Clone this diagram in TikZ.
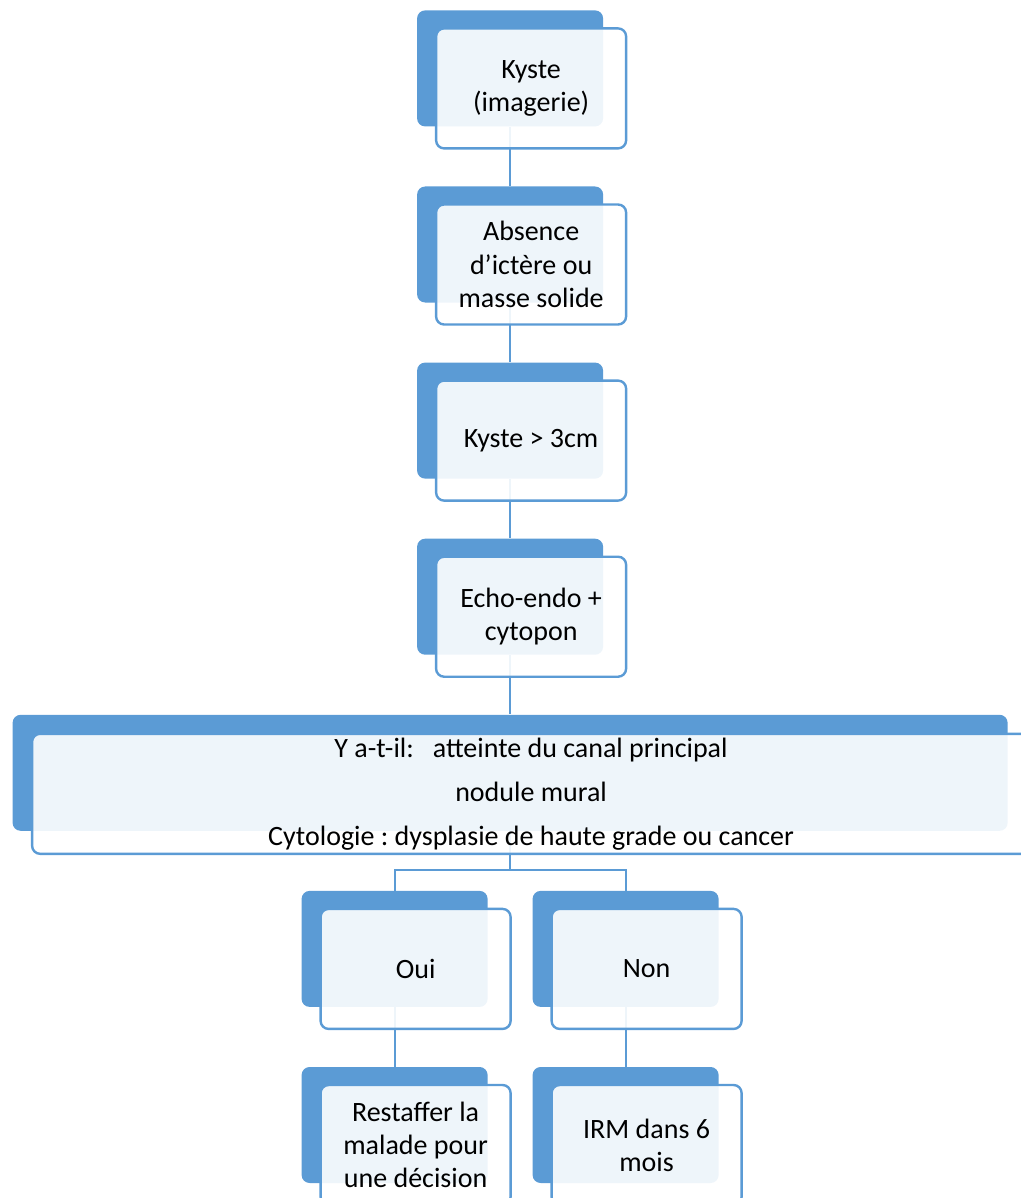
\documentclass[tikz,border=0pt]{standalone}
\usepackage{fontspec}
\setmainfont{Carlito}
\usepackage{tikz}
\usetikzlibrary{positioning,backgrounds}
\definecolor{smblue}{HTML}{5B9BD5}
\frenchspacing

\begin{document}
\begin{tikzpicture}[node distance=29.65pt,
  back/.style={fill=smblue,rounded corners=4pt,minimum width=93pt,minimum height=58pt,inner sep=0pt},
  front/.style={draw=smblue,line width=1.2pt,fill=white,fill opacity=0.9,text opacity=1,
    rounded corners=4pt,minimum width=95pt,minimum height=60pt,inner sep=0pt,align=center,
    font=\fontsize{14}{16.6}\selectfont},
  conn/.style={draw=smblue,line width=1.1pt}]
  \useasboundingbox (0,0) rectangle (510.5pt,-599pt);

  \node[back,anchor=north west] (k1) at (208.35pt,-5pt) {};
  \node[back]  (k2) [below=of k1] {};
  \node[back]  (k3) [below=of k2] {};
  \node[back]  (k4) [below=of k3] {};
  \node[back,minimum width=497.5pt] (w) [below=of k4] {};
  \node[back]  (oui) [below=of w,xshift=-57.75pt] {};
  \node[back]  (non) [below=of w,xshift=57.75pt] {};
  \node[back]  (res) [below=of oui] {};
  \node[back]  (irm) [below=of non] {};

  \begin{scope}[on background layer]
  \path[conn] (k1) edge (k2)
        (k2) edge (k3)
        (k3) edge (k4)
        (k4) edge (w)
        (oui) edge (res)
        (non) edge (irm);
  \draw[conn] (w.south) -- ++(0,-19.5pt) coordinate (fork);
  \draw[conn] (fork) -| (oui);
  \draw[conn] (fork) -| (non);
  \end{scope}

  \node[front] (k1t) at ([shift={(10.5pt,-10pt)}]k1.center) {Kyste\\(imagerie)};
  \node[front] (k2t) at ([shift={(10.5pt,-10pt)}]k2.center) {Absence\\d’ictère ou\\masse solide};
  \node[front] (k3t) at ([shift={(10.5pt,-10pt)}]k3.center) {Kyste > 3cm};
  \node[front] (k4t) at ([shift={(10.5pt,-10pt)}]k4.center) {Echo-endo +\\cytopon};
  \node[front,minimum width=499pt] (wt) at ([shift={(10.5pt,-10.5pt)}]w.center)
    {Y a-t-il:\ \ \ atteinte du canal principal\\[5.4pt]nodule mural\\[5.4pt]Cytologie : dysplasie de haute grade ou cancer};
  \node[front] (ouit) at ([shift={(10.5pt,-10pt)}]oui.center) {Oui};
  \node[front] (nont) at ([shift={(10.5pt,-10pt)}]non.center) {Non};
  \node[front] (rest) at ([shift={(10.5pt,-10pt)}]res.center) {Restaffer la\\malade pour\\une décision};
  \node[front] (irmt) at ([shift={(10.5pt,-10pt)}]irm.center) {IRM dans 6\\mois};
\end{tikzpicture}
\end{document}
